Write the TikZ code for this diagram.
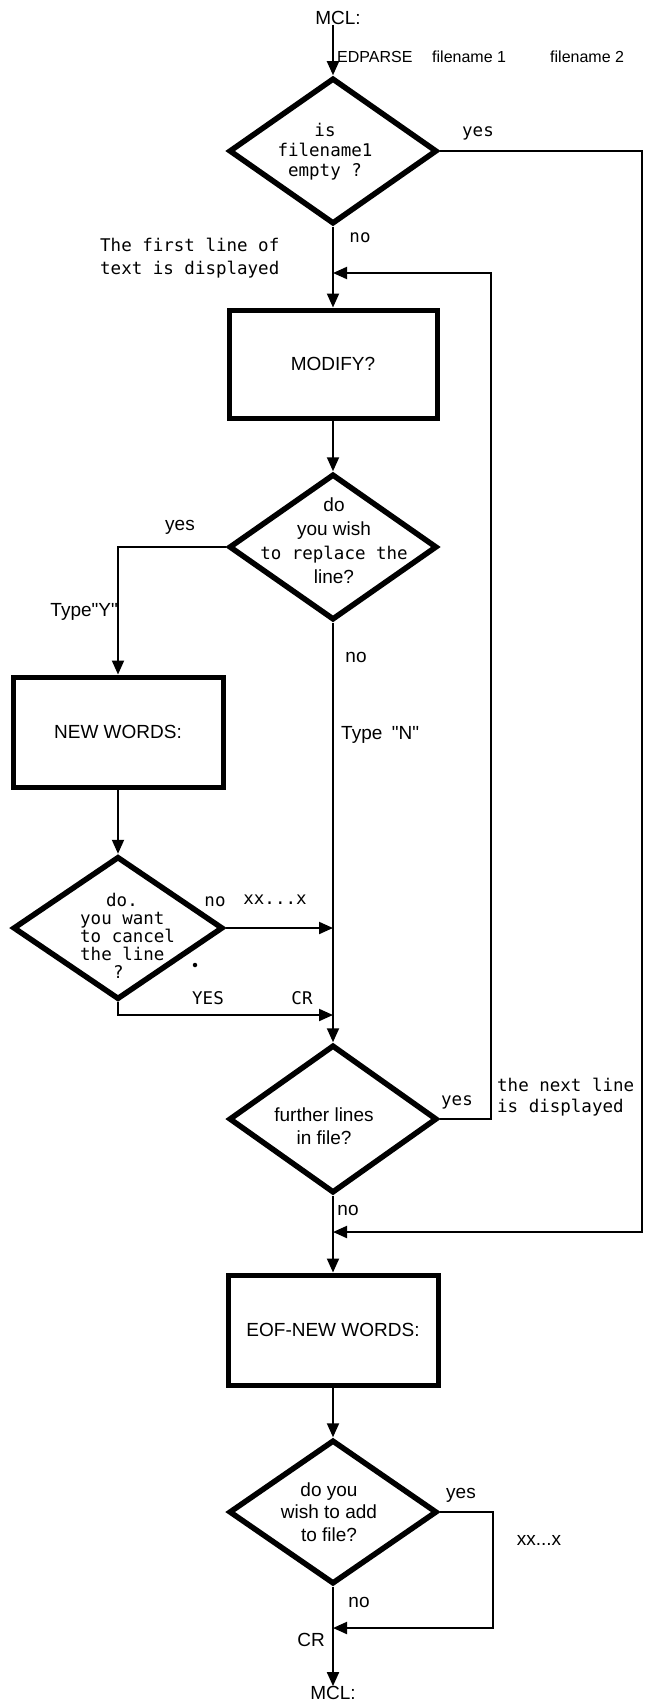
\documentclass[tikz,border=0pt]{standalone}
\usepackage{fontspec}
\setmainfont{Liberation Sans}
\newfontfamily\monof{DejaVu Sans Mono}
\newfontfamily\sansf{Liberation Sans}
\usetikzlibrary{shapes.geometric,arrows.meta}
\begin{document}
\begin{tikzpicture}[x=1pt,y=-1pt,
  decision/.style={diamond, draw, line width=5.5pt, minimum width=208pt, minimum height=146pt, inner sep=0pt},
  procbox/.style={rectangle, draw, line width=5pt, minimum width=208pt, minimum height=108pt, inner sep=0pt},
  conn/.style={line width=2pt},
  arr/.style={conn, -{Triangle[length=14pt,width=12pt]}},
  mono/.style={font=\monof\fontsize{17.5}{20}\selectfont, inner sep=0pt},
  sans/.style={font=\sansf\fontsize{19}{23}\selectfont, inner sep=0pt},
  topline/.style={sans, font=\sansf\fontsize{16}{19}\selectfont, anchor=west},
]
\useasboundingbox (0,0) rectangle (647,1702);

% main shapes
\node[sans] (mcltop) at (338,18) {MCL:};
\node[topline] (edp) at (337,57) {EDPARSE};
\node[topline] (fn1) at (432,57) {filename 1};
\node[topline] (fn2) at (550,57) {filename 2};

\node[decision] (d1) at (333,151) {};
\node[mono, align=center] (d1t) at (325,152) {is\\filename1\\empty ?};

\node[procbox, sans] (modify) at (333,364) {MODIFY?};

\node[decision] (d2) at (333,547) {};
\node[align=center, inner sep=0pt, font=\sansf\fontsize{19}{24}\selectfont] (d2t) at (334,541)
  {\sansf do\\\sansf you wish\\\monof\fontsize{17.5}{24}\selectfont to replace the\\\sansf\fontsize{19}{24}\selectfont line?};

\node[procbox, sans, minimum width=210pt, minimum height=110pt] (newwords) at (118,732) {NEW WORDS:};

\node[decision, minimum width=210pt, minimum height=143pt] (d3) at (118,928) {};
\node[mono, align=left, anchor=west, font=\monof\fontsize{17.5}{18}\selectfont] (d3t) at (80,936)
  {\hspace*{26pt}do.\\you want\\to cancel\\the line\\\hspace*{33pt}?};
\node[circle, fill, inner sep=0pt, minimum size=4.5pt] (speck) at (195,965) {};

\node[decision, minimum height=148pt] (d4) at (333,1119) {};
\node[sans, align=center] (d4t) at (324,1126) {further lines\\in file?};

\node[procbox, sans, minimum width=210pt, minimum height=110pt] (eof) at (333,1330) {EOF-NEW WORDS:};

\node[decision, minimum height=144pt] (d5) at (333,1512) {};
\node[sans, align=center, font=\sansf\fontsize{19}{22.5}\selectfont] (d5t) at (329,1512) {do you\\wish to add\\to file?};

\node[sans] (mclbot) at (333,1693) {MCL:};

% junction coordinates
\coordinate (rx) at (642,0);
\coordinate (lx) at (491,0);
\coordinate (yx) at (493,0);
\coordinate (j1) at (333,273);
\coordinate (j3) at (333,928);
\coordinate (j4) at (333,1015);
\coordinate (j5) at (333,1232);
\coordinate (j6) at (333,1628);

% main flow
\draw[arr] (d1.north |- mcltop.south) -- (d1.north);
\draw[arr] (d1.south) -- (modify.north);
\draw[arr] (modify.south) -- (d2.north);
\draw[arr] (d2.south) -- (d4.north);
\draw[arr] (d4.south) -- (eof.north);
\draw[arr] (eof.south) -- (d5.north);
\draw[arr] (d5.south) -- (mclbot.north);

% branches
\draw[arr] (d1.east) -- (d1.east -| rx) |- (j5);
\draw[arr] (d4.east) -- (d4.east -| lx) |- (j1);
\draw[arr] (d2.west) -| (newwords.north);
\draw[arr] (newwords.south) -- (d3.north);
\draw[arr] (d3.east) -- (j3);
\draw[arr] (d3.south) |- (j4);
\draw[arr] (d5.east) -- (d5.east -| yx) |- (j6);

% labels
\node[mono] (l1) at (478,133) {yes};
\node[mono] (l2) at (360,238) {no};
\node[mono, align=left, anchor=west, font=\monof\fontsize{17.5}{23}\selectfont] (l3) at (100,258) {The first line of\\text is displayed};
\node[sans] (l4) at (180,527) {yes};
\node[sans, anchor=east] (l5) at (118,612) {Type"Y"};
\node[sans] (l6) at (356,657) {no};
\node[sans, anchor=west] (l7) at (341,735) {Type\enspace"N"};
\node[mono] (l8) at (215,902) {no};
\node[mono] (l9) at (275,900) {xx...x};
\node[mono] (l10) at (208,998) {YES};
\node[mono] (l11) at (302,998) {CR};
\node[mono] (l12) at (457,1102) {yes};
\node[mono, align=left, anchor=west, font=\monof\fontsize{17.5}{21}\selectfont] (l13) at (497,1097) {the next line\\is displayed};
\node[sans] (l14) at (348,1210) {no};
\node[sans] (l15) at (461,1495) {yes};
\node[sans] (l16) at (539,1540) {xx...x};
\node[sans] (l17) at (359,1602) {no};
\node[sans] (l18) at (311,1640) {CR};
\end{tikzpicture}
\end{document}
